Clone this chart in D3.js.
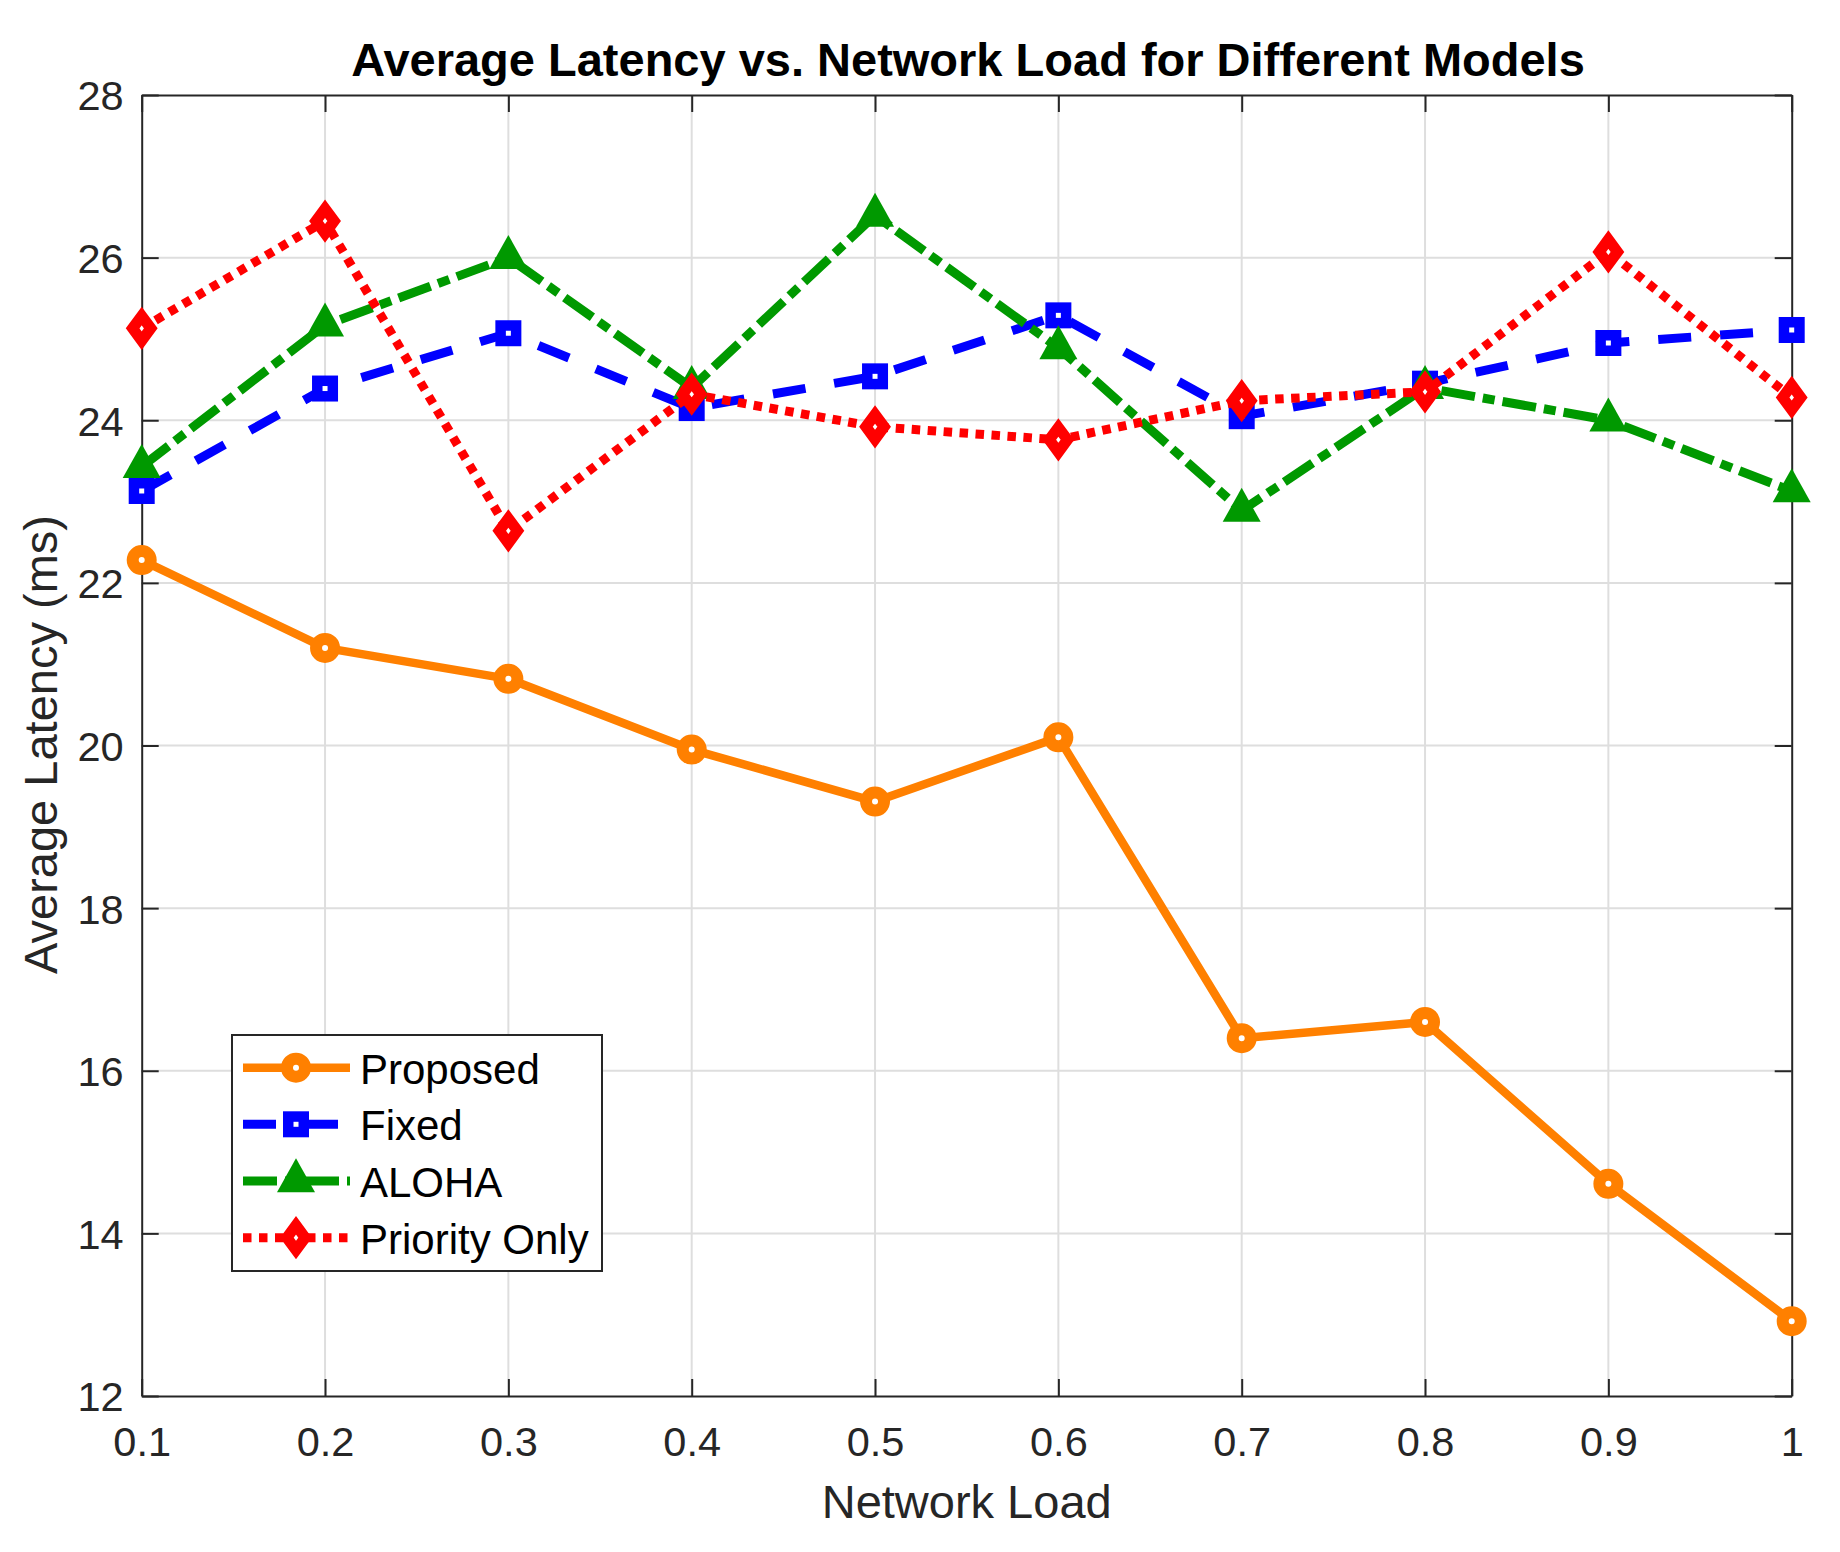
<!DOCTYPE html>
<html>
<head>
<meta charset="utf-8">
<script src="https://cdn.jsdelivr.net/npm/d3@7/dist/d3.min.js"></script>
<style>
html,body{margin:0;padding:0;background:#fff;}
svg{display:block;}
text{font-family:"Liberation Sans",Arial,Helvetica,sans-serif;}
</style>
</head>
<body>
<svg id="chart" width="1840" height="1552"></svg>
<script>
// ---- data ----
const loads = [0.1, 0.2, 0.3, 0.4, 0.5, 0.6, 0.7, 0.8, 0.9, 1.0];
const proposed = [22.28, 21.20, 20.82, 19.95, 19.31, 20.10, 16.40, 16.60, 14.61, 12.92];
const fixed    = [23.13, 24.39, 25.07, 24.15, 24.54, 25.29, 24.05, 24.45, 24.95, 25.11];
const aloha    = [23.43, 25.17, 26.00, 24.40, 26.52, 24.89, 22.89, 24.40, 24.00, 23.13];
const priority = [25.13, 26.45, 22.64, 24.32, 23.92, 23.76, 24.24, 24.35, 26.07, 24.28];
const seriesNames = ["Proposed", "Fixed", "ALOHA", "Priority Only"];
const xTicks = [0.1, 0.2, 0.3, 0.4, 0.5, 0.6, 0.7, 0.8, 0.9, 1.0];
const xTickLabels = ["0.1", "0.2", "0.3", "0.4", "0.5", "0.6", "0.7", "0.8", "0.9", "1"];
const yTicks = [12, 14, 16, 18, 20, 22, 24, 26, 28];
const titleText = "Average Latency vs. Network Load for Different Models";
const xLabelText = "Network Load";
const yLabelText = "Average Latency (ms)";

// ---- styles ----
const styles = [
  {color: "#FF8000", dash: null,           marker: "circle",   width: 8.5},
  {color: "#0000FF", dash: "33,29",        marker: "square",   width: 9},
  {color: "#009900", dash: "34,8,12,8",    marker: "triangle", width: 9},
  {color: "#FF0000", dash: "8.5,7.5",      marker: "diamond",  width: 9}
];
const allSeries = [proposed, fixed, aloha, priority];

const L = 141.7, R = 1791.7, T = 95, B = 1396;
const axisColor = "#262626";
const x = d3.scaleLinear().domain([0.1, 1.0]).range([L, R]);
const y = d3.scaleLinear().domain([12, 28]).range([B, T]);

const svg = d3.select("#chart");
svg.append("rect").attr("width", 1840).attr("height", 1552).attr("fill", "#fff");

// grid
const grid = svg.append("g");
grid.selectAll("line.gx").data(xTicks.slice(1, -1)).join("line")
  .attr("x1", d => x(d)).attr("x2", d => x(d)).attr("y1", T).attr("y2", B)
  .attr("stroke", "#dedede").attr("stroke-width", 2);
grid.selectAll("line.gy").data(yTicks.slice(1, -1)).join("line")
  .attr("y1", d => y(d)).attr("y2", d => y(d)).attr("x1", L).attr("x2", R)
  .attr("stroke", "#dedede").attr("stroke-width", 2);

// axes with inward ticks on all sides
const tickLen = 17;
const fs = 41.5;
const gBottom = svg.append("g").attr("transform", `translate(0,${B})`)
  .call(d3.axisBottom(x).tickValues(xTicks).tickFormat((d, i) => xTickLabels[i]).tickSizeInner(-tickLen).tickSizeOuter(0).tickPadding(31));
const gTop = svg.append("g").attr("transform", `translate(0,${T})`)
  .call(d3.axisTop(x).tickValues(xTicks).tickFormat("").tickSizeInner(-tickLen).tickSizeOuter(0));
const gLeft = svg.append("g").attr("transform", `translate(${L},0)`)
  .call(d3.axisLeft(y).tickValues(yTicks).tickFormat(d3.format("d")).tickSizeInner(-tickLen).tickSizeOuter(0).tickPadding(18));
const gRight = svg.append("g").attr("transform", `translate(${R},0)`)
  .call(d3.axisRight(y).tickValues(yTicks).tickFormat("").tickSizeInner(-tickLen).tickSizeOuter(0));
[gBottom, gTop, gLeft, gRight].forEach(g => {
  g.select(".domain").attr("stroke", axisColor).attr("stroke-width", 2);
  g.selectAll(".tick line").attr("stroke", axisColor).attr("stroke-width", 2);
  g.selectAll(".tick text").attr("fill", axisColor).style("font-size", fs + "px")
    .style("font-family", '"Liberation Sans",Arial,Helvetica,sans-serif');
});
gBottom.selectAll(".tick text").attr("dy", "0.71em");
gLeft.selectAll(".tick text").attr("dy", "0.36em");

// symbol drawing
function drawMarker(g, type, cx, cy, color) {
  if (type === "circle") {
    g.append("circle").attr("cx", cx).attr("cy", cy).attr("r", 9)
      .attr("fill", "#fff").attr("stroke", color).attr("stroke-width", 12);
  } else if (type === "square") {
    const s = 15.5;
    g.append("rect").attr("x", cx - s / 2).attr("y", cy - s / 2).attr("width", s).attr("height", s)
      .attr("fill", "#fff").attr("stroke", color).attr("stroke-width", 10.5);
  } else if (type === "triangle") {
    const H = 34, W = 38;
    g.append("path")
      .attr("d", `M${cx},${cy - 2 * H / 3} L${cx + W / 2},${cy + H / 3} L${cx - W / 2},${cy + H / 3} Z`)
      .attr("fill", color);
  } else if (type === "diamond") {
    const a = 9.1, h = 12.35;
    g.append("path")
      .attr("d", `M${cx},${cy - h} L${cx + a},${cy} L${cx},${cy + h} L${cx - a},${cy} Z`)
      .attr("fill", "#fff").attr("stroke", color).attr("stroke-width", 11)
      .attr("stroke-linejoin", "miter").attr("stroke-miterlimit", 10);
  }
}

// series
const lineGen = d3.line().x((d, i) => x(loads[i])).y(d => y(d));
allSeries.forEach((vals, si) => {
  const st = styles[si];
  const g = svg.append("g");
  g.append("path").attr("d", lineGen(vals)).attr("fill", "none")
    .attr("stroke", st.color).attr("stroke-width", st.width)
    .attr("stroke-dasharray", st.dash).attr("stroke-linejoin", "round");
  vals.forEach((v, i) => drawMarker(g, st.marker, x(loads[i]), y(v), st.color));
});

// title & labels
svg.append("text").attr("x", 968).attr("y", 76).attr("text-anchor", "middle")
  .style("font-size", "47px").style("font-weight", "bold").attr("fill", "#000").text(titleText);
svg.append("text").attr("x", (L + R) / 2).attr("y", 1518).attr("text-anchor", "middle")
  .style("font-size", "47px").attr("fill", axisColor).text(xLabelText);
svg.append("text").attr("transform", `translate(57,${(T + B) / 2 - 1}) rotate(-90)`).attr("text-anchor", "middle")
  .style("font-size", "47px").attr("fill", axisColor).text(yLabelText);

// legend
const lg = svg.append("g");
lg.append("rect").attr("x", 232).attr("y", 1035).attr("width", 370).attr("height", 236)
  .attr("fill", "#fff").attr("stroke", axisColor).attr("stroke-width", 2);
const rowY = [1067.7, 1124.3, 1181, 1237.7];
seriesNames.forEach((name, i) => {
  const st = styles[i];
  const cy = rowY[i];
  lg.append("line").attr("x1", 243).attr("x2", 350).attr("y1", cy).attr("y2", cy)
    .attr("stroke", st.color).attr("stroke-width", st.width).attr("stroke-dasharray", st.dash);
  drawMarker(lg, st.marker, 296, cy, st.color);
  lg.append("text").attr("x", 360).attr("y", cy + 16).style("font-size", "42px").attr("fill", "#000").text(name);
});
</script>
</body>
</html>
